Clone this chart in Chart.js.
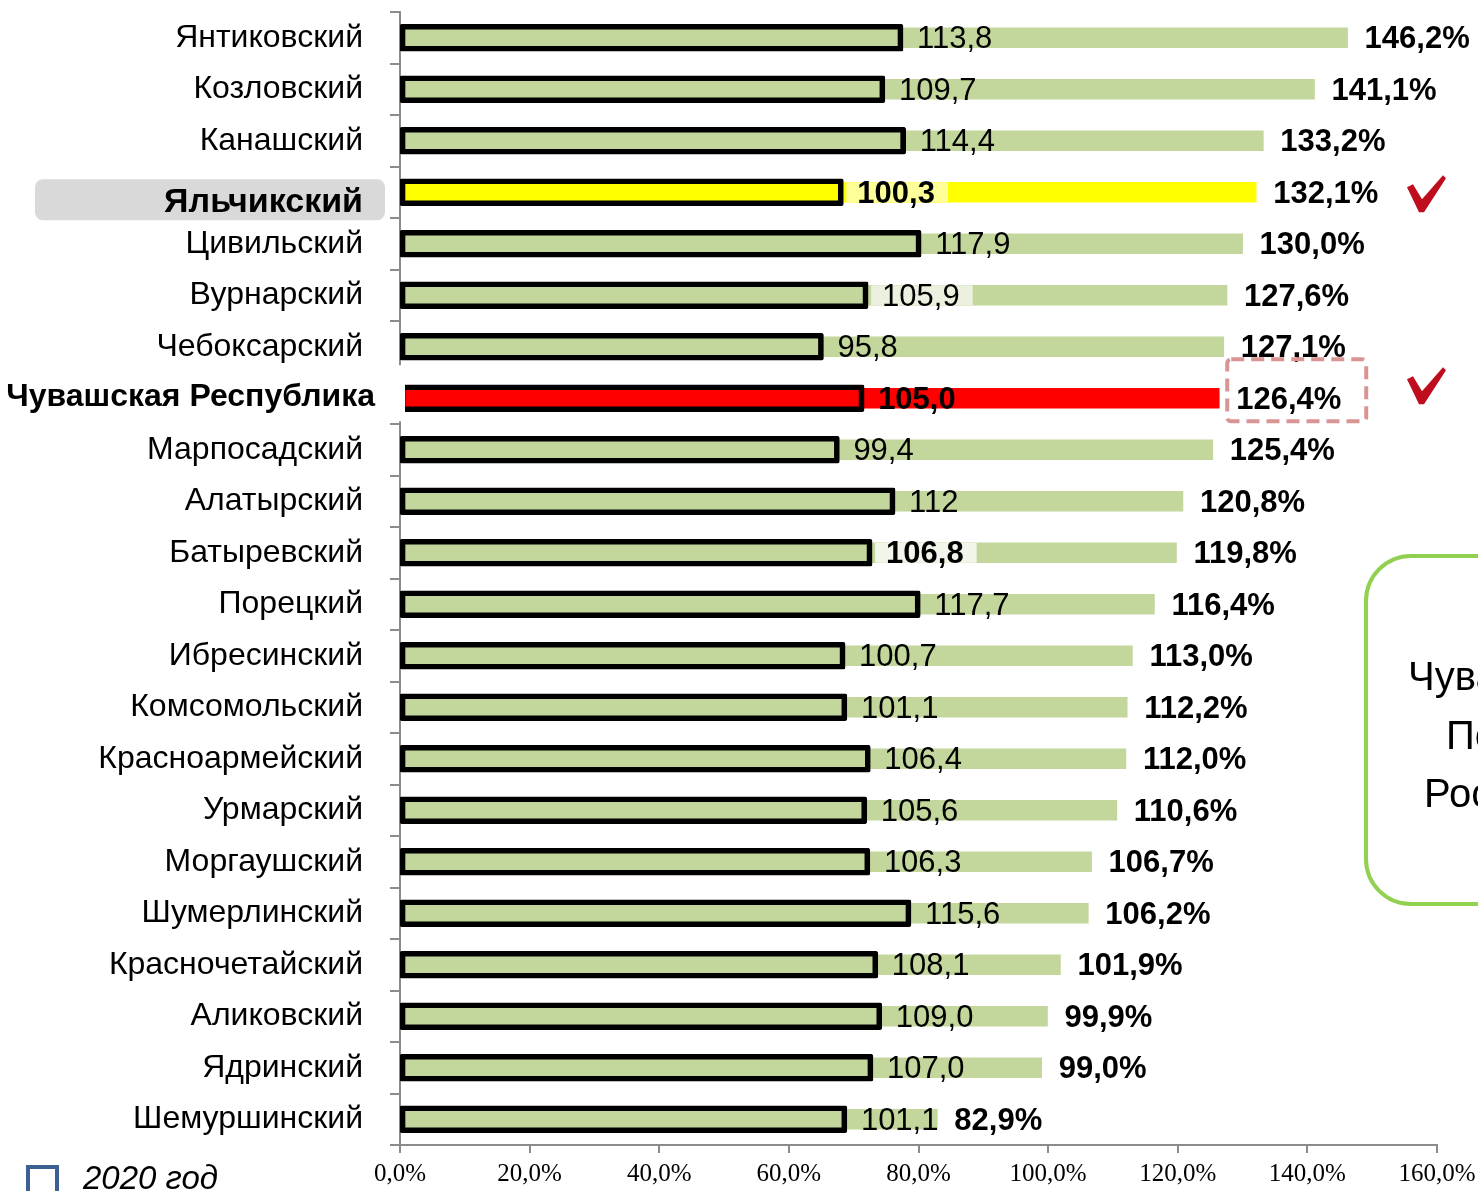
<!DOCTYPE html>
<html>
<head>
<meta charset="utf-8">
<script src="https://cdn.jsdelivr.net/npm/chart.js@4.4.1/dist/chart.umd.min.js"></script>
<style>
  body { margin: 0; background: #fff; }
  #wrap { width: 1478px; height: 1191px; position: relative; }
</style>
</head>
<body>
<div id="wrap"><canvas id="barChart"></canvas></div>
<script>
// setup
const districts = [
  'Янтиковский', 'Козловский', 'Канашский', 'Яльчикский', 'Цивильский',
  'Вурнарский', 'Чебоксарский', 'Чувашская Республика', 'Марпосадский',
  'Алатырский', 'Батыревский', 'Порецкий', 'Ибресинский', 'Комсомольский',
  'Красноармейский', 'Урмарский', 'Моргаушский', 'Шумерлинский',
  'Красночетайский', 'Аликовский', 'Ядринский', 'Шемуршинский'
];
const growthPct = [146.2, 141.1, 133.2, 132.1, 130.0, 127.6, 127.1, 126.4, 125.4, 120.8, 119.8,
  116.4, 113.0, 112.2, 112.0, 110.6, 106.7, 106.2, 101.9, 99.9, 99.0, 82.9];
const value2020 = [113.8, 109.7, 114.4, 100.3, 117.9, 105.9, 95.8, 105.0, 99.4, 112, 106.8,
  117.7, 100.7, 101.1, 106.4, 105.6, 106.3, 115.6, 108.1, 109.0, 107.0, 101.1];
const value2020Text = ['113,8', '109,7', '114,4', '100,3', '117,9', '105,9', '95,8', '105,0', '99,4',
  '112', '106,8', '117,7', '100,7', '101,1', '106,4', '105,6', '106,3', '115,6', '108,1',
  '109,0', '107,0', '101,1'];
const xTicks = [0, 20, 40, 60, 80, 100, 120, 140, 160];

const HIGHLIGHT = 3;   // Яльчикский
const REPUBLIC = 7;    // Чувашская Республика
const boldValue = [3, 7, 10];
const tintValue = { 3: '#ffff99', 5: '#ebf1de', 10: '#f2f6ea' };

const sans = '"Liberation Sans", Arial, sans-serif';
const fmtPct = v => v.toFixed(1).replace('.', ',') + '%';

const barColors = growthPct.map((v, i) =>
  i === HIGHLIGHT ? '#ffff00' : i === REPUBLIC ? '#ff0000' : '#c3d69b');

function roundRect(ctx, x, y, w, h, r) {
  ctx.beginPath();
  ctx.moveTo(x + r, y);
  ctx.arcTo(x + w, y, x + w, y + h, r);
  ctx.arcTo(x + w, y + h, x, y + h, r);
  ctx.arcTo(x, y + h, x, y, r);
  ctx.arcTo(x, y, x + w, y, r);
  ctx.closePath();
}

function tick(ctx, x, y) {
  ctx.save();
  ctx.fillStyle = '#c00d1e';
  ctx.beginPath();
  ctx.moveTo(x, y + 12);
  ctx.lineTo(x + 6, y + 9);
  ctx.lineTo(x + 15, y + 24);
  ctx.lineTo(x + 36, y);
  ctx.lineTo(x + 39, y + 3);
  ctx.lineTo(x + 17, y + 37);
  ctx.lineTo(x + 12, y + 37);
  ctx.closePath();
  ctx.fill();
  ctx.restore();
}

const extras = {
  id: 'extras',
  beforeDraw(chart) {
    // grey plate behind the highlighted district name
    const ctx = chart.ctx;
    const cy = chart.scales.y.getPixelForValue(HIGHLIGHT);
    ctx.save();
    ctx.fillStyle = '#d9d9d9';
    roundRect(ctx, 35, cy - 13, 350, 41, 8);
    ctx.fill();
    ctx.restore();
  },
  afterDraw(chart) {
    const ctx = chart.ctx;
    const yScale = chart.scales.y;
    const outline = chart.getDatasetMeta(0).data;
    const green = chart.getDatasetMeta(1).data;
    const ry = yScale.getPixelForValue(REPUBLIC);

    // the two bold names sit a little off the regular label column
    ctx.save();
    ctx.fillStyle = '#000';
    ctx.textAlign = 'right';
    ctx.textBaseline = 'middle';
    ctx.font = 'bold 34px ' + sans;
    ctx.fillText(districts[HIGHLIGHT], 363, yScale.getPixelForValue(HIGHLIGHT) + 10);
    ctx.font = 'bold 32px ' + sans;
    ctx.fillText(districts[REPUBLIC], 375, ry - 1);
    ctx.restore();

    // gap in the axis at the republic row
    ctx.save();
    ctx.fillStyle = '#fff';
    ctx.fillRect(385, ry - 33, 20, 56);
    ctx.restore();

    ctx.save();
    ctx.textBaseline = 'middle';
    ctx.fillStyle = '#000';
    outline.forEach((bar, i) => {
      const bold = boldValue.includes(i);
      ctx.font = (bold ? 'bold ' : '') + '31px ' + sans;
      const w = ctx.measureText(value2020Text[i]).width;
      if (tintValue[i]) {
        ctx.fillStyle = tintValue[i];
        ctx.fillRect(bar.x + 3, bar.y - 10, w + 24, 20);
        ctx.fillStyle = '#000';
      }
      ctx.fillText(value2020Text[i], bar.x + 14, bar.y + 2);
    });
    green.forEach((bar, i) => {
      ctx.font = 'bold 31px ' + sans;
      ctx.fillText(fmtPct(growthPct[i]), bar.x + 17, bar.y + 2);
    });
    ctx.restore();

    // dashed frame around the republic value
    const rb = green[REPUBLIC];
    ctx.save();
    ctx.strokeStyle = '#d99594';
    ctx.lineWidth = 4;
    ctx.setLineDash([13, 7]);
    roundRect(ctx, rb.x + 8, rb.y - 39, 139, 62, 4);
    ctx.stroke();
    ctx.restore();

    tick(ctx, 1407, yScale.getPixelForValue(HIGHLIGHT) - 17);
    tick(ctx, 1407, ry - 31);

    // green note box on the right, cut by the page edge
    ctx.save();
    ctx.strokeStyle = '#92d050';
    ctx.lineWidth = 4;
    roundRect(ctx, 1366, 556, 200, 348, 45);
    ctx.stroke();
    ctx.fillStyle = '#000';
    ctx.font = '40px ' + sans;
    ctx.textBaseline = 'alphabetic';
    ctx.fillText('Чувашская', 1408, 690);
    ctx.fillText('По', 1446, 749);
    ctx.fillText('России', 1424, 807);
    ctx.restore();

    // legend
    ctx.save();
    ctx.strokeStyle = '#3b6091';
    ctx.lineWidth = 4;
    ctx.strokeRect(28, 1167, 29, 30);
    ctx.fillStyle = '#000';
    ctx.font = 'italic 33px ' + sans;
    ctx.textBaseline = 'alphabetic';
    ctx.fillText('2020 год', 83, 1189);
    ctx.restore();
  }
};

const data = {
  labels: districts,
  datasets: [{
    label: '2020 год',
    data: value2020,
    xAxisID: 'x2',
    grouped: false,
    order: 0,
    backgroundColor: 'rgba(0,0,0,0)',
    borderColor: '#000',
    borderWidth: 5,
    borderSkipped: false,
    borderRadius: 2,
    barThickness: 27
  }, {
    label: '2021 год к 2020 году',
    data: growthPct,
    xAxisID: 'x',
    grouped: false,
    order: 1,
    backgroundColor: barColors,
    borderWidth: 0,
    barThickness: 20
  }]
};

// config
const config = {
  type: 'bar',
  data,
  plugins: [extras],
  options: {
    indexAxis: 'y',
    responsive: true,
    maintainAspectRatio: false,
    animation: false,
    layout: { padding: { top: 12, right: 41, left: 0, bottom: 0 } },
    plugins: {
      legend: { display: false },
      tooltip: { enabled: false }
    },
    scales: {
      y: {
        grid: { drawOnChartArea: false, drawTicks: true, tickLength: 10, color: '#8c8c8c', lineWidth: 2, offset: true },
        border: { display: true, color: '#8c8c8c', width: 2 },
        ticks: {
          // bold names are drawn by the plugin
          color: ctx => (ctx.index === HIGHLIGHT || ctx.index === REPUBLIC) ? 'rgba(0,0,0,0)' : '#000',
          padding: 27,
          font: { family: sans, size: 32 }
        },
        afterFit: s => { s.width = 400; s.paddingTop = 0; s.paddingBottom = 0; }
      },
      x: {
        position: 'bottom',
        min: 0,
        max: 160,
        afterBuildTicks: s => { s.ticks = xTicks.map(v => ({ value: v })); },
        grid: { drawOnChartArea: false, drawTicks: true, tickLength: 8, color: '#8c8c8c', lineWidth: 2 },
        border: { display: true, color: '#8c8c8c', width: 2 },
        ticks: {
          color: '#000',
          padding: 6,
          maxRotation: 0,
          font: { family: '"Liberation Serif", "Times New Roman", serif', size: 25 },
          callback: v => fmtPct(v)
        },
        afterFit: s => { s.height = 46; s.paddingLeft = 0; s.paddingRight = 0; }
      },
      x2: {
        display: false,
        min: 0,
        max: 234.6
      }
    }
  }
};

// render init block
const barChart = new Chart(document.getElementById('barChart'), config);
</script>
</body>
</html>
